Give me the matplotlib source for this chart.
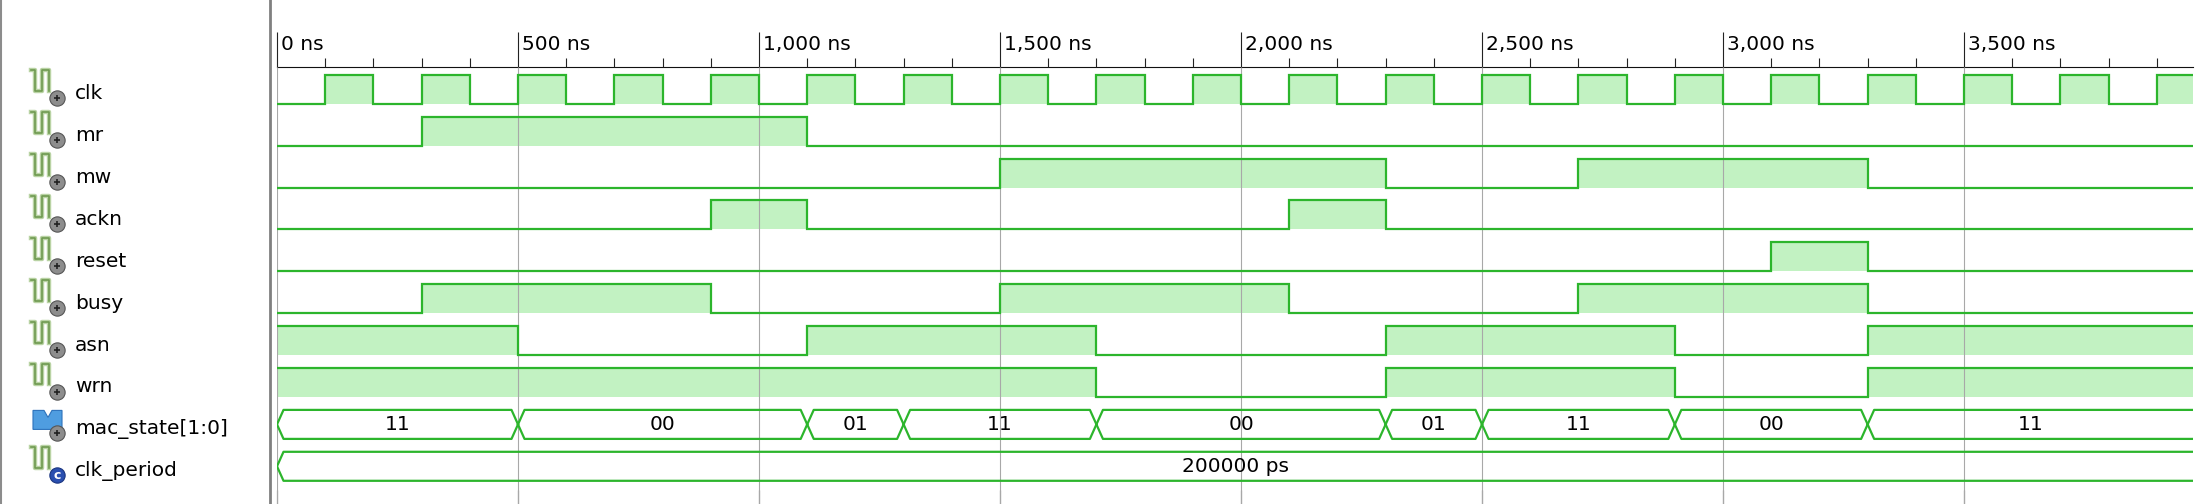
import matplotlib.pyplot as plt
from matplotlib.lines import Line2D
from matplotlib.ticker import FixedLocator, MultipleLocator

# time axis (ns)
t_end = 3975
time_ticks = [0, 500, 1000, 1500, 2000, 2500, 3000, 3500]
time_labels = ['0 ns', '500 ns', '1,000 ns', '1,500 ns', '2,000 ns',
               '2,500 ns', '3,000 ns', '3,500 ns']

# single-bit signals: start value + toggle times (ns)
signal_names = ['clk', 'mr', 'mw', 'ackn', 'reset', 'busy', 'asn', 'wrn']
signal_init = [0, 0, 0, 0, 0, 0, 1, 1]
signal_toggles = [
    [100, 200, 300, 400, 500, 600, 700, 800, 900, 1000, 1100, 1200, 1300,
     1400, 1500, 1600, 1700, 1800, 1900, 2000, 2100, 2200, 2300, 2400, 2500,
     2600, 2700, 2800, 2900, 3000, 3100, 3200, 3300, 3400, 3500, 3600, 3700,
     3800, 3900],
    [300, 1100],
    [1500, 2300, 2700, 3300],
    [900, 1100, 2100, 2300],
    [3100, 3300],
    [300, 900, 1500, 2100, 2700, 3300],
    [500, 1100, 1700, 2300, 2900, 3300],
    [1700, 2300, 2900, 3300],
]

# buses
mac_state_times = [0, 500, 1100, 1300, 1700, 2300, 2500, 2900, 3300]
mac_state_values = ['11', '00', '01', '11', '00', '01', '11', '00', '11']
clk_period_times = [0]
clk_period_values = ['200000 ps']
bus_names = ['mac_state[1:0]', 'clk_period']

# look
line_c = '#2cb52c'
fill_c = '#c2f2c2'
fs = 14.5
W, H = 2199, 504
row_px = 41.9
row0_px = 89.2
axis_top_px = 67
h = 14.5 / row_px          # half height of a trace, in rows
d = 13.5                   # bus edge slant, ns

fig = plt.figure(figsize=(W / 100, H / 100), dpi=100)
fig.patch.set_facecolor('white')

ymin = (axis_top_px - row0_px) / row_px
ymax = (H - row0_px) / row_px
ax_h = (H - axis_top_px) / H

ax = fig.add_axes([277 / W, 0, (2193 - 277) / W, ax_h])
ax.set_xlim(0, t_end)
ax.set_ylim(ymax, ymin)

# digital traces
for i, (init, tog) in enumerate(zip(signal_init, signal_toggles)):
    times = [0] + tog + [t_end]
    vals = [init]
    for _ in tog:
        vals.append(1 - vals[-1])
    vals.append(vals[-1])
    ys = [i + h - 2 * h * v for v in vals]
    ax.fill_between(times, [i + h] * len(times), ys, step='post',
                    color=fill_c, lw=0, zorder=1)
    ax.plot(times, ys, drawstyle='steps-post', color=line_c, lw=1.6,
            zorder=3, solid_joinstyle='miter')


def draw_bus(row, times, values):
    bounds = times + [t_end]
    for k, val in enumerate(values):
        t0, t1 = bounds[k], bounds[k + 1]
        last = k == len(values) - 1
        for s in (-1, 1):
            xs = [t0, t0 + d] + ([t1] if last else [t1 - d, t1])
            ys = [row, row + s * h] + ([row + s * h] if last else [row + s * h, row])
            ax.plot(xs, ys, color=line_c, lw=1.6, zorder=3)
        ax.text((t0 + t1) / 2, row, val, ha='center', va='center',
                fontsize=fs, color='black', zorder=4)


n_sig = len(signal_names)
draw_bus(n_sig, mac_state_times, mac_state_values)
draw_bus(n_sig + 1, clk_period_times, clk_period_values)

# time ruler on top
ax.xaxis.tick_top()
ax.xaxis.set_major_locator(FixedLocator(time_ticks))
ax.xaxis.set_minor_locator(MultipleLocator(100))
ax.tick_params(axis='x', which='major', direction='out', length=25,
               width=0.8, color='#222222', labeltop=False, labelbottom=False)
ax.tick_params(axis='x', which='minor', direction='out', length=6.5,
               width=0.8, color='#222222')
ax.set_yticks([])
for side in ('left', 'right', 'bottom'):
    ax.spines[side].set_visible(False)
ax.spines['top'].set_linewidth(0.8)
ax.spines['top'].set_color('#111111')
ax.grid(axis='x', which='major', color='#a8a8a8', lw=0.8)
ax.set_axisbelow(False)

for t, lab in zip(time_ticks, time_labels):
    ax.annotate(lab, xy=(t, 1), xycoords=('data', 'axes fraction'),
                xytext=(3, 12), textcoords='offset points', ha='left',
                va='baseline', fontsize=fs, annotation_clip=False)

sec = ax.secondary_xaxis('bottom')
sec.set_xticks(time_ticks)
sec.tick_params(direction='in', length=10, width=0.8, color='#222222',
                labelbottom=False)
sec.spines['bottom'].set_visible(False)

# name panel
lp = fig.add_axes([0, 0, 271 / W, ax_h])
lp.set_xlim(0, 271)
lp.set_ylim(ymax, ymin)
lp.axis('off')

px = 1 / row_px
for i, name in enumerate(signal_names + bus_names):
    if name == 'mac_state[1:0]':
        bx = [33, 44, 48, 52, 62, 62, 33, 33]
        by = [-14, -14, -7, -14, -14, 5, 5, -14]
        lp.fill([x for x in bx], [i + y * px for y in by], color='#4f9de0',
                ec='#2d72bb', lw=0.8, zorder=2)
    else:
        wx = [31, 35, 35, 42, 42, 49, 49]
        wy = [-19, -19, 2, 2, -19, -19, 2]
        yy = [i + y * px for y in wy]
        lp.plot(wx, yy, color='#b9d3a4', lw=3.2, zorder=2)
        lp.plot(wx, yy, color='#6f9a50', lw=1.2, zorder=2)
    if name == 'clk_period':
        lp.plot(57, i + 9 * px, 'o', ms=11, mfc='#2a4fb0', mec='#1a3580',
                mew=0.8, zorder=3)
        lp.text(57, i + 9 * px, 'c', ha='center', va='center', fontsize=9,
                color='white', fontweight='bold', zorder=4)
    else:
        lp.plot(57, i + 9 * px, 'o', ms=11, mfc='#8d8d8d', mec='#555555',
                mew=0.8, zorder=3)
        lp.plot(57, i + 9 * px, '+', ms=5, mec='#222222', mew=1.2, zorder=4)
    lp.text(75, i + 10 * px, name, ha='left', va='baseline', fontsize=fs,
            color='black')

# panel borders
fig.add_artist(Line2D([1 / W, 1 / W], [0, 1], color='#8c8c8c', lw=1.5))
fig.add_artist(Line2D([270 / W, 270 / W], [0, 1], color='#808080', lw=2))

fig.savefig('out.png', dpi=100, facecolor='white')
